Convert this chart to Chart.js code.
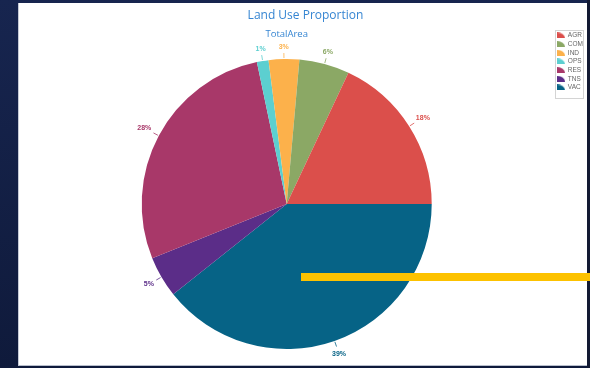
<!DOCTYPE html>
<html><head><meta charset="utf-8">
<script src="https://cdn.jsdelivr.net/npm/chart.js@4"></script>
<style>
html,body{margin:0;padding:0;width:590px;height:368px;overflow:hidden;background:linear-gradient(#17254f,#0f1a3b);}
#panel{position:absolute;left:18px;top:3px;width:569px;height:363px;background:#fff;border-left:1px solid #c5cad6;border-bottom:1px solid #b9bfcc;box-sizing:border-box;}
#edge{position:absolute;left:587px;top:0;width:3px;height:368px;background:#131a33;}
#c{position:absolute;left:0;top:0;z-index:2;}
#bar{position:absolute;left:301px;top:273px;width:289px;height:8px;background:#fdc200;z-index:5;}
</style></head><body>
<div id="panel"></div>
<div id="edge"></div>
<canvas id="c" width="590" height="380"></canvas>
<div id="bar"></div>
<script>
const categories = ['AGR','COM','IND','OPS','RES','TNS','VAC'];
const values = [18.0, 5.6, 3.4, 1.3, 27.8, 4.6, 39.3];
const colors = ['#db4f4b','#8ba865','#fcb14b','#5ccfd0','#a83869','#5b2d88','#066386'];
const titleText = 'Land Use Proportion';
const subtitleText = 'TotalArea';

// slices run counter-clockwise from 3 o'clock in the reference: feed reversed order clockwise
const pieLabels = categories.slice().reverse();
const pieValues = values.slice().reverse();
const pieColors = colors.slice().reverse();

function wedgeIcon(color) {
  const cv = document.createElement('canvas');
  cv.width = 8; cv.height = 6;
  const g = cv.getContext('2d');
  g.fillStyle = color;
  g.beginPath();
  g.moveTo(0, 6);
  g.lineTo(0, 0);
  g.ellipse(0, 6, 8, 6, 0, -Math.PI / 2, 0);
  g.closePath();
  g.fill();
  return cv;
}
const icons = pieColors.map(wedgeIcon);

const sliceLabels = {
  id: 'sliceLabels',
  afterDatasetsDraw(chart) {
    const ctx = chart.ctx;
    const meta = chart.getDatasetMeta(0);
    const ds = chart.data.datasets[0];
    const total = ds.data.reduce((a, b) => a + b, 0);
    ctx.save();
    ctx.font = 'bold 7px "Liberation Sans", Arial, sans-serif';
    ctx.textAlign = 'center';
    ctx.textBaseline = 'middle';
    meta.data.forEach((arc, i) => {
      const p = arc.getProps(['x', 'y', 'startAngle', 'endAngle', 'outerRadius'], true);
      const a = (p.startAngle + p.endAngle) / 2;
      const c = Math.cos(a), s = Math.sin(a);
      const txt = Math.round(ds.data[i] / total * 100) + '%';
      const w = ctx.measureText(txt).width;
      const col = ds.backgroundColor[i];
      ctx.strokeStyle = col;
      ctx.lineWidth = 0.8;
      ctx.beginPath();
      ctx.moveTo(p.x + c * (p.outerRadius + 1), p.y + s * (p.outerRadius + 1));
      ctx.lineTo(p.x + c * (p.outerRadius + 6), p.y + s * (p.outerRadius + 6));
      ctx.stroke();
      const R = p.outerRadius + 9 + (w / 2) * Math.abs(c) + 2.5 * Math.abs(s);
      ctx.fillStyle = col;
      ctx.fillText(txt, p.x + c * R, p.y + s * R);
    });
    ctx.restore();
  }
};

const extras = {
  id: 'extras',
  afterDraw(chart) {
    const ctx = chart.ctx;
    const ca = chart.chartArea;
    ctx.save();
    ctx.font = '9.5px "Open Sans", sans-serif';
    ctx.fillStyle = '#3585d2';
    ctx.textAlign = 'center';
    ctx.textBaseline = 'middle';
    ctx.fillText(subtitleText, (ca.left + ca.right) / 2, ca.top + 4);
    const lg = chart.legend;
    if (lg && lg.legendHitBoxes && lg.legendHitBoxes.length) {
      const hb = lg.legendHitBoxes;
      let l = Infinity, r = -Infinity, b = -Infinity;
      hb.forEach(h => { l = Math.min(l, h.left); r = Math.max(r, h.left + h.width); b = Math.max(b, h.top + h.height); });
      ctx.strokeStyle = '#d4d4d4';
      ctx.lineWidth = 1;
      ctx.strokeRect(Math.round(l - 3) + 0.5, Math.round(lg.top) + 0.5, Math.round(r - l + 3), Math.round(b + 7 - lg.top));
    }
    ctx.restore();
  }
};

new Chart(document.getElementById('c'), {
  type: 'pie',
  data: {
    labels: pieLabels,
    datasets: [{
      data: pieValues,
      backgroundColor: pieColors,
      borderWidth: 0,
      radius: 145
    }]
  },
  options: {
    responsive: false,
    devicePixelRatio: 1,
    animation: false,
    events: [],
    rotation: 90,
    layout: { padding: { left: 18, right: -3, top: 3, bottom: 2 } },
    plugins: {
      title: {
        display: true,
        text: titleText,
        color: '#3585d2',
        font: { family: '"Open Sans", sans-serif', size: 12, weight: 'normal', lineHeight: 1.2 },
        padding: { top: 5.3, bottom: 7.3 }
      },
      tooltip: { enabled: false },
      legend: {
        position: 'right',
        align: 'start',
        fullSize: false,
        reverse: true,
        labels: {
          usePointStyle: true,
          pointStyleWidth: 7,
          boxHeight: 6.5,
          padding: 2.17,
          color: '#666',
          font: { size: 6.5, family: '"Liberation Sans", Arial, sans-serif' },
          generateLabels(chart) {
            const ds = chart.data.datasets[0];
            return chart.data.labels.map((t, i) => ({
              text: t,
              fillStyle: ds.backgroundColor[i],
              strokeStyle: ds.backgroundColor[i],
              fontColor: '#666',
              lineWidth: 0,
              pointStyle: icons[i],
              hidden: false,
              index: i
            }));
          }
        }
      }
    }
  },
  plugins: [sliceLabels, extras]
});
</script>
</body></html>
